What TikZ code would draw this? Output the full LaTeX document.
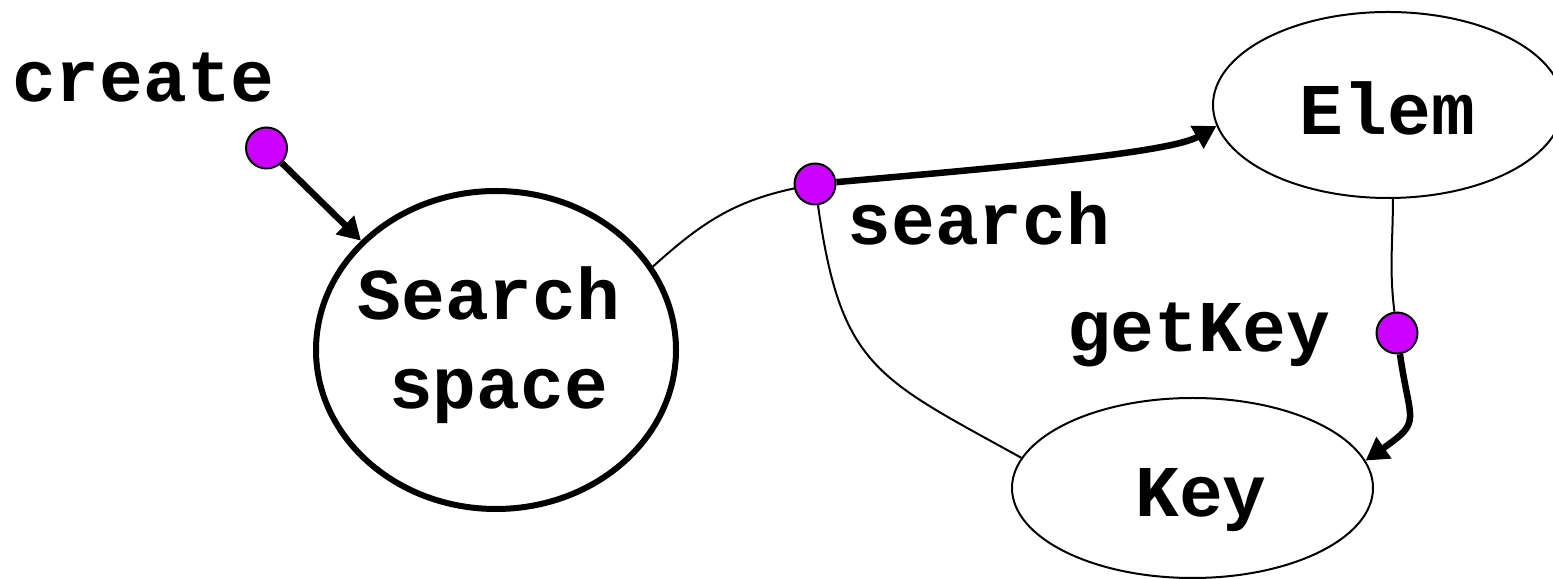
\documentclass[tikz,border=0pt]{standalone}
\usepackage{fontspec}
\setmainfont{Liberation Mono}
\usetikzlibrary{arrows.meta,shapes.geometric}
\definecolor{r204g0b255}{RGB}{204,0,255}

\begin{document}
\begin{tikzpicture}[
    objnode/.style={draw, ellipse, inner sep=0pt},
    opdot/.style={draw, circle, fill=r204g0b255, line width=0.04cm, minimum size=0.82cm, inner sep=0pt},
    oplabel/.style={anchor=base, inner sep=0pt, font=\fontsize{41.5}{50}\selectfont\bfseries},
    usesarrow/.style={line width=0.13cm, -{Triangle[length=0.45cm,width=0.5cm]}},
    thinlink/.style={line width=0.04cm}
  ]
  \useasboundingbox (0.000000,0.000000) rectangle (31.060000,11.580000);
  \clip (0.000000,0.000000) rectangle (31.060000,11.580000);

  % Drawing ellipse Search space
  \node [objnode, line width=0.12cm, minimum width=7.20cm, minimum height=6.36cm] (space) at (9.920000,4.580000) {};
  \node [oplabel] (spaceword) at (9.780000,5.180000) {Search};
  \node [oplabel] (spacewordb) at (9.970000,3.400000) {space};

  % Drawing ellipse Elem
  \node [objnode, line width=0.04cm, minimum width=7.00cm, minimum height=3.72cm] (elem) at (27.760000,9.480000) {};
  \node [oplabel] (elemword) at (27.750000,8.880000) {Elem};

  % Drawing ellipse Key
  \node [objnode, line width=0.04cm, minimum width=7.22cm, minimum height=3.60cm] (key) at (23.850000,1.820000) {};
  \node [oplabel] (keyword) at (24.020000,1.240000) {Key};

  % Marking operations by dots
  \node [opdot] (cdot) at (5.330000,8.620000) {};
  \node [oplabel] (cword) at (2.870000,9.540000) {create};
  \node [opdot] (sdot) at (16.300000,7.900000) {};
  \node [oplabel] (sword) at (19.580000,6.680000) {search};
  \node [opdot] (gdot) at (27.940000,4.920000) {};
  \node [oplabel] (gword) at (23.970000,4.540000) {getKey};

  % Drawing arrow create -> Search space
  \draw [usesarrow] (cdot) -- (space.141);

  % Drawing links of search
  \draw [thinlink] (space.28) to[out=42,in=192] (sdot);
  \draw [usesarrow] (sdot) to[out=5,in=210,out looseness=1.2,in looseness=0.35] (elem.187);
  \draw [thinlink] (sdot) to[out=-82,in=151,looseness=1.3] (key.170);

  % Drawing links of getKey
  \draw [thinlink] (elem.-87) to[out=-90,in=97] (gdot);
  \draw [usesarrow] (gdot) to[out=-82,in=35,looseness=1.6] (key.9);
\end{tikzpicture}
\end{document}
